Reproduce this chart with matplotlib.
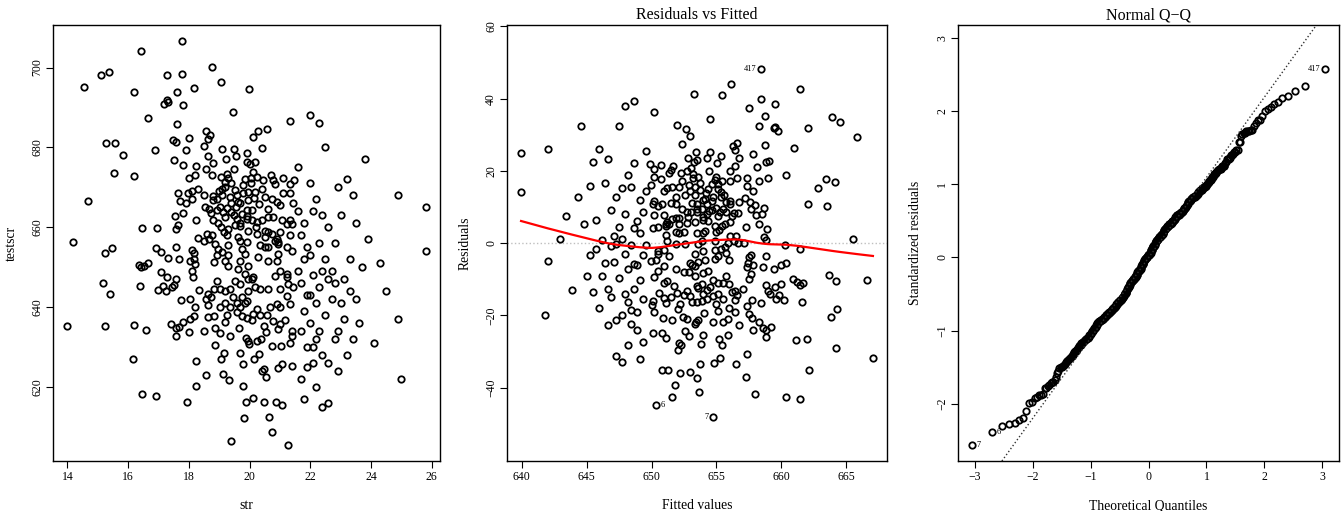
import numpy as np
import matplotlib.pyplot as plt
from statistics import NormalDist

plt.rcParams['font.family'] = ['Liberation Serif', 'DejaVu Serif']

# class size (str) and test score (testscr)
str_vals = [
    15.11, 15.36, 14.54, 16.19, 15.27, 15.56, 15.83,
    16.43, 18.76, 17.29, 17.77, 17.62, 18.17, 17.27, 17.18, 17.31, 17.81, 16.65, 17.62, 18.56, 18.69,
    18.64, 17.48, 17.58, 18.01, 18.49, 16.90, 17.90, 18.62, 17.52, 17.82, 18.23, 18.80, 18.56,
    19.05, 19.99, 19.47, 21.33, 20.57, 20.27, 20.13, 20.41, 19.10, 19.48, 19.24, 19.56, 19.93, 19.91, 20.19,
    15.55, 16.19, 14.68, 14.20, 15.23, 15.48, 15.19, 15.40,
    18.02, 18.21, 18.78, 17.66, 17.97, 18.12, 18.29, 18.49, 18.79, 17.71, 17.91, 18.10, 18.53, 18.67,
    18.73, 18.80, 17.55, 17.82, 18.24, 17.66, 17.59, 16.45, 16.94, 18.31, 18.59, 18.51, 18.67, 18.78,
    18.86, 16.93, 17.09, 17.59, 18.10, 18.16, 17.31, 17.67, 18.03, 18.18, 18.21, 18.84, 16.36, 16.43,
    16.54, 16.67, 18.10, 17.08, 17.29, 17.59, 17.52, 17.44, 17.15, 16.98, 17.26, 18.14, 16.38, 18.35,
    18.64, 18.57, 18.73, 17.74, 18.04, 18.22, 18.84, 18.62,
    19.06, 19.25, 19.30, 19.19, 19.39, 19.85, 20.05, 20.24, 20.45, 20.78, 20.84, 21.11, 21.33, 21.48,
    18.92, 19.08, 19.36, 19.52, 19.80, 19.96, 20.18, 20.51, 20.73, 20.90, 21.00, 21.11, 21.33, 21.44,
    19.63, 19.96, 19.03, 19.14, 19.19, 19.39, 19.55, 19.69, 19.74, 19.91, 19.91, 20.07, 20.09, 20.24,
    20.40, 20.62, 20.78, 21.06, 21.33, 21.39, 19.58, 18.92, 19.06, 19.17, 19.25, 19.52, 19.69, 19.96,
    20.24, 20.51, 20.62, 20.73, 20.90, 20.95, 21.00, 21.22, 21.33, 18.97, 19.08, 19.28, 19.63, 19.69,
    19.74, 19.85, 19.91, 20.35, 20.51, 20.62, 20.84, 20.95, 21.22, 21.39, 19.30, 18.92, 19.19, 19.30,
    19.69, 19.96, 20.29, 20.62, 20.90, 20.95, 21.00, 21.22, 19.63, 18.92, 19.03, 19.19, 19.36, 19.52,
    19.69, 19.85, 19.96, 20.07, 20.13, 20.18, 20.35, 20.62, 20.84, 21.00, 21.22, 21.28, 21.44, 19.96,
    19.47, 19.74, 19.03, 19.19, 19.36, 19.58, 19.69, 19.85, 19.91, 20.24, 20.68, 20.90, 21.00, 21.22,
    21.33,
    # crowded middle of the cloud, partly hidden behind overlapping circles
    19.20, 19.50, 19.80, 20.10, 20.40, 20.70, 19.00, 19.40, 19.90, 20.30, 20.60, 19.10, 18.80, 18.95,
    19.70, 20.20, 20.50, 19.30, 20.00, 19.50, 19.60, 20.15, 19.25, 20.05,
    14.00, 15.24, 16.21, 16.15,
    16.58, 17.42, 17.59, 17.69, 17.82, 18.04, 18.17, 18.62, 18.84, 17.59, 18.02, 18.49, 18.86, 18.86,
    18.23, 18.58, 18.24, 16.45, 16.91, 17.94,
    19.25, 19.58, 19.74, 19.91, 20.07, 20.13, 20.35, 20.57, 20.78, 21.00, 21.17, 19.19, 19.03, 19.36,
    19.65, 20.46, 20.53, 20.95, 21.39, 21.41, 19.87, 19.94, 19.98, 20.24, 20.38, 20.73, 21.04, 21.33,
    19.17, 19.06, 19.69, 19.78, 20.16, 20.31, 20.42, 20.49, 20.53, 21.06, 20.93, 21.39, 19.14, 19.33,
    19.80, 19.89, 20.13, 20.46, 20.86, 21.08, 19.83, 20.64, 20.75,
    # larger classes, right-hand side of the cloud
    21.6, 21.7, 21.7, 21.7, 21.8, 21.8, 21.8, 21.9, 21.9, 21.6, 21.7, 21.8, 21.9, 21.6, 21.9,
    22.0, 22.0, 22.0, 22.0, 22.1, 22.1, 22.1, 22.2, 22.2, 22.2, 22.3, 22.3, 22.3, 22.4, 22.4,
    22.0, 22.1, 22.2, 22.3, 22.4, 22.4,
    22.5, 22.5, 22.6, 22.6, 22.6, 22.7, 22.8, 22.8, 22.9, 22.9, 22.9, 22.5, 22.7, 22.8, 22.6,
    23.0, 23.0, 23.1, 23.1, 23.2, 23.3, 23.4, 23.4, 23.5, 23.5, 23.7, 23.9, 23.8, 23.2, 23.6, 23.3,
    24.3, 24.9, 24.9, 25.0, 25.8, 25.8, 24.5, 24.1,
]
testscr_vals = [
    698.1, 698.9, 695.1, 693.8, 681.1, 681.1, 678.2,
    704.1, 700.1, 698.1, 698.3, 694.0, 695.0, 691.8, 690.9, 691.3, 690.6, 687.4, 685.8, 684.2, 683.2,
    682.2, 681.8, 681.4, 682.4, 680.3, 679.4, 679.3, 677.9, 676.9, 675.6, 675.3, 676.0, 674.5,
    696.4, 694.6, 688.9, 686.6, 684.7, 684.2, 682.5, 679.9, 679.6, 679.6, 677.1, 677.8, 678.6, 676.4, 676.4,
    673.7, 672.8, 666.7, 656.3, 653.7, 654.9, 646.2, 643.3,
    672.3, 673.1, 673.2, 668.5, 668.5, 669.1, 669.7, 668.2, 667.8, 666.5, 666.0, 667.2, 665.1, 664.7,
    663.6, 661.9, 662.8, 663.7, 661.8, 660.5, 659.7, 659.9, 659.9, 657.3, 658.4, 656.7, 657.0, 658.0,
    655.9, 654.9, 653.8, 655.2, 654.4, 653.7, 652.4, 652.1, 651.7, 652.0, 650.9, 651.3, 650.6, 650.0,
    650.4, 651.1, 649.2, 648.8, 647.5, 647.2, 645.7, 645.0, 645.4, 644.4, 644.2, 647.5, 645.4, 644.3,
    643.3, 642.2, 642.7, 641.8, 642.1, 640.0, 644.6, 640.6,
    672.7, 673.3, 672.3, 671.4, 671.0, 672.0, 672.3, 672.7, 671.8, 671.8, 670.8, 672.3, 670.8, 671.8,
    667.2, 668.1, 667.6, 669.3, 668.5, 668.9, 668.9, 667.6, 667.2, 666.4, 665.5, 668.5, 668.5, 666.0,
    666.4, 666.8, 665.1, 663.9, 662.6, 663.9, 665.1, 666.0, 663.4, 664.3, 662.2, 664.3, 661.8, 661.3,
    661.8, 662.6, 662.6, 661.8, 661.8, 660.9, 662.2, 664.3, 660.1, 658.8, 658.0, 660.5, 660.3, 659.2,
    658.4, 659.2, 658.8, 658.4, 657.2, 656.3, 658.8, 660.9, 658.0, 654.6, 653.8, 655.5, 657.6, 656.7,
    654.6, 653.4, 656.3, 655.5, 655.0, 655.0, 656.7, 655.9, 655.0, 654.2, 653.0, 653.0, 651.7, 650.4,
    651.7, 650.4, 652.5, 651.7, 651.7, 653.4, 649.2, 648.4, 649.6, 646.7, 644.6, 644.2, 644.6, 646.7,
    645.8, 648.4, 647.1, 647.1, 647.5, 645.0, 644.6, 644.6, 647.9, 644.6, 647.5, 645.8, 645.0, 644.2,
    642.5, 642.5, 640.0, 641.2, 640.0, 641.2, 640.0, 641.2, 641.6, 639.5, 640.0, 640.8, 640.0, 642.9,
    640.8,
    670.0, 674.5, 670.5, 673.8, 669.6, 673.0, 669.0, 666.2, 662.9, 665.8, 664.6, 669.5, 666.8, 661.0,
    661.2, 660.2, 657.5, 659.6, 675.8, 663.2, 668.0, 667.4, 664.8, 671.2,
    635.4, 635.3, 635.6, 627.0,
    634.4, 635.9, 634.9, 635.1, 636.4, 637.0, 637.9, 637.5, 637.9, 632.9, 633.8, 634.0, 634.9, 630.5,
    626.7, 623.0, 620.3, 618.2, 617.9, 616.4,
    638.1, 638.9, 637.9, 637.3, 636.9, 638.4, 638.1, 638.1, 636.6, 635.9, 636.8, 636.4, 633.7, 632.8,
    634.8, 635.3, 633.9, 634.5, 634.1, 632.8, 632.3, 631.6, 630.9, 631.7, 632.0, 630.3, 630.3, 631.1,
    628.6, 627.2, 628.5, 625.9, 627.2, 628.4, 624.2, 624.6, 622.5, 625.9, 624.9, 625.3, 623.4, 621.7,
    620.2, 616.2, 617.2, 616.2, 616.2, 615.6, 612.4, 612.5, 608.9,
    675.0, 658.0, 646.0, 622.0, 661.0, 652.0, 639.0, 655.0, 630.0, 664.0, 634.0, 617.0, 643.0, 649.0, 625.0,
    688.0, 671.0, 653.0, 643.0, 664.0, 630.0, 626.0, 667.0, 641.0, 620.0, 686.0, 656.0, 634.0, 663.0, 649.0,
    636.0, 648.0, 632.0, 645.0, 628.0, 615.0,
    680.0, 638.0, 660.0, 626.0, 616.0, 649.0, 656.0, 646.0, 634.0, 624.0, 670.0, 652.0, 642.0, 632.0, 647.0,
    663.0, 641.0, 647.0, 637.0, 672.0, 652.0, 668.0, 632.0, 661.0, 642.0, 650.0, 657.0, 677.0, 628.0, 636.0, 644.0,
    651.0, 668.0, 637.0, 622.0, 665.0, 654.0, 644.0, 631.0,
]

# observations flagged in the diagnostic plots
label_ids = ["417", "6", "7"]
label_str = [17.77, 21.26, 19.38]
label_testscr = [706.6, 605.6, 606.6]


def lowess(x, y, f=2/3, iters=3):
    order = np.argsort(x)
    x, y = x[order], y[order]
    n = len(x)
    r = int(np.ceil(f * n))
    yest = np.zeros(n)
    rob = np.ones(n)
    for _ in range(iters + 1):
        for i in range(n):
            d = np.abs(x - x[i])
            h = np.sort(d)[r - 1]
            w = np.clip(d / h, 0, 1)
            w = (1 - w ** 3) ** 3 * rob
            sw = w.sum()
            xm = (w * x).sum() / sw
            ym = (w * y).sum() / sw
            sxx = (w * (x - xm) ** 2).sum()
            b = (w * (x - xm) * (y - ym)).sum() / sxx if sxx > 0 else 0
            yest[i] = ym + b * (x[i] - xm)
        res = y - yest
        s = np.median(np.abs(res))
        u = np.clip(res / (6 * s), -1, 1)
        rob = (1 - u ** 2) ** 2
    return x, yest


def r_lim(lo, hi):
    pad = 0.04 * (hi - lo)
    return lo - pad, hi + pad


x = np.array(str_vals + label_str)
y = np.array(testscr_vals + label_testscr)
n_lab = len(label_ids)
lab_idx = np.arange(len(x) - n_lab, len(x))

slope, icept = np.polyfit(x, y, 1)
fitted = icept + slope * x
resid = y - fitted
n = len(x)
sigma = np.sqrt((resid ** 2).sum() / (n - 2))
lev = 1 / n + (x - x.mean()) ** 2 / ((x - x.mean()) ** 2).sum()
std_res = resid / (sigma * np.sqrt(1 - lev))

nd = NormalDist()
order = np.argsort(std_res)
theo = np.empty(n)
theo[order] = [nd.inv_cdf((i + 0.5) / n) for i in range(n)]

fig = plt.figure(figsize=(13.42, 5.11), dpi=100)
W, H = 1342, 511
boxes = [(53, 25, 387, 436), (507, 25, 380, 436), (958, 25, 381, 436)]
axes = [fig.add_axes([l / W, (H - t - h) / H, w / W, h / H]) for l, t, w, h in boxes]

mk = dict(marker='o', mfc='none', mec='black', mew=1.3, ms=4.6, ls='none')
TICK, LAB, TTL = 8.5, 9.8, 11.5


def style(ax):
    for sp in ax.spines.values():
        sp.set_linewidth(1.0)
    ax.tick_params(length=5, width=0.8, labelsize=TICK, pad=2)
    for lab in ax.get_yticklabels():
        lab.set_rotation(90)
        lab.set_va('center')


# panel 1: scatter
ax = axes[0]
ax.plot(x, y, **mk)
ax.set_xlim(*r_lim(x.min(), x.max()))
ax.set_ylim(*r_lim(y.min(), y.max()))
ax.set_xticks(np.arange(14, 27, 2))
ax.set_yticks(np.arange(620, 701, 20))
ax.set_xlabel("str", fontsize=LAB, labelpad=12)
ax.set_ylabel("testscr", fontsize=LAB, labelpad=10)
style(ax)

# panel 2: residuals vs fitted
ax = axes[1]
ax.axhline(0, color='0.75', ls=':', lw=1.0)
ax.plot(fitted, resid, **mk)
sx, sy = lowess(fitted, resid)
ax.plot(sx, sy, color='red', lw=1.6)
ax.set_xlim(*r_lim(fitted.min(), fitted.max()))
rlo, rhi = resid.min(), resid.max()
rlo, rhi = rlo - 0.08 * (rhi - rlo), rhi + 0.08 * (rhi - rlo)
ax.set_ylim(*r_lim(rlo, rhi))
ax.set_xticks(np.arange(640, 666, 5))
ax.set_yticks(np.arange(-40, 61, 20))
mid = (fitted.min() + fitted.max()) / 2
for k, i in enumerate(lab_idx):
    left = fitted[i] > mid
    ax.annotate(label_ids[k], (fitted[i], resid[i]), xytext=(-3 if left else 3, 0),
                textcoords='offset points', ha='right' if left else 'left', va='center', fontsize=6)
ax.set_title("Residuals vs Fitted", fontsize=TTL, pad=4)
ax.set_xlabel("Fitted values", fontsize=LAB, labelpad=12)
ax.set_ylabel("Residuals", fontsize=LAB, labelpad=10)
style(ax)

# panel 3: normal Q-Q
ax = axes[2]
ax.plot(theo, std_res, **mk)
q1, q3 = np.quantile(std_res, [0.25, 0.75])
t1, t3 = nd.inv_cdf(0.25), nd.inv_cdf(0.75)
qs = (q3 - q1) / (t3 - t1)
ax.axline((0, q1 - qs * t1), slope=qs, color='0.2', ls=':', lw=1.0)
ax.set_xlim(*r_lim(theo.min(), theo.max()))
qlo, qhi = std_res.min(), std_res.max()
ax.set_ylim(*r_lim(qlo, qhi + 0.075 * (qhi - qlo)))
ax.set_xticks(np.arange(-3, 4, 1))
ax.set_yticks(np.arange(-2, 4, 1))
for k, i in enumerate(lab_idx):
    left = theo[i] > 0
    ax.annotate(label_ids[k], (theo[i], std_res[i]), xytext=(-3 if left else 3, 0),
                textcoords='offset points', ha='right' if left else 'left', va='center', fontsize=6)
ax.set_title("Normal Q\u2212Q", fontsize=TTL, pad=4)
ax.set_xlabel("Theoretical Quantiles", fontsize=LAB, labelpad=12)
ax.set_ylabel("Standardized residuals", fontsize=LAB, labelpad=10)
style(ax)

fig.savefig("out.png", dpi=100)
